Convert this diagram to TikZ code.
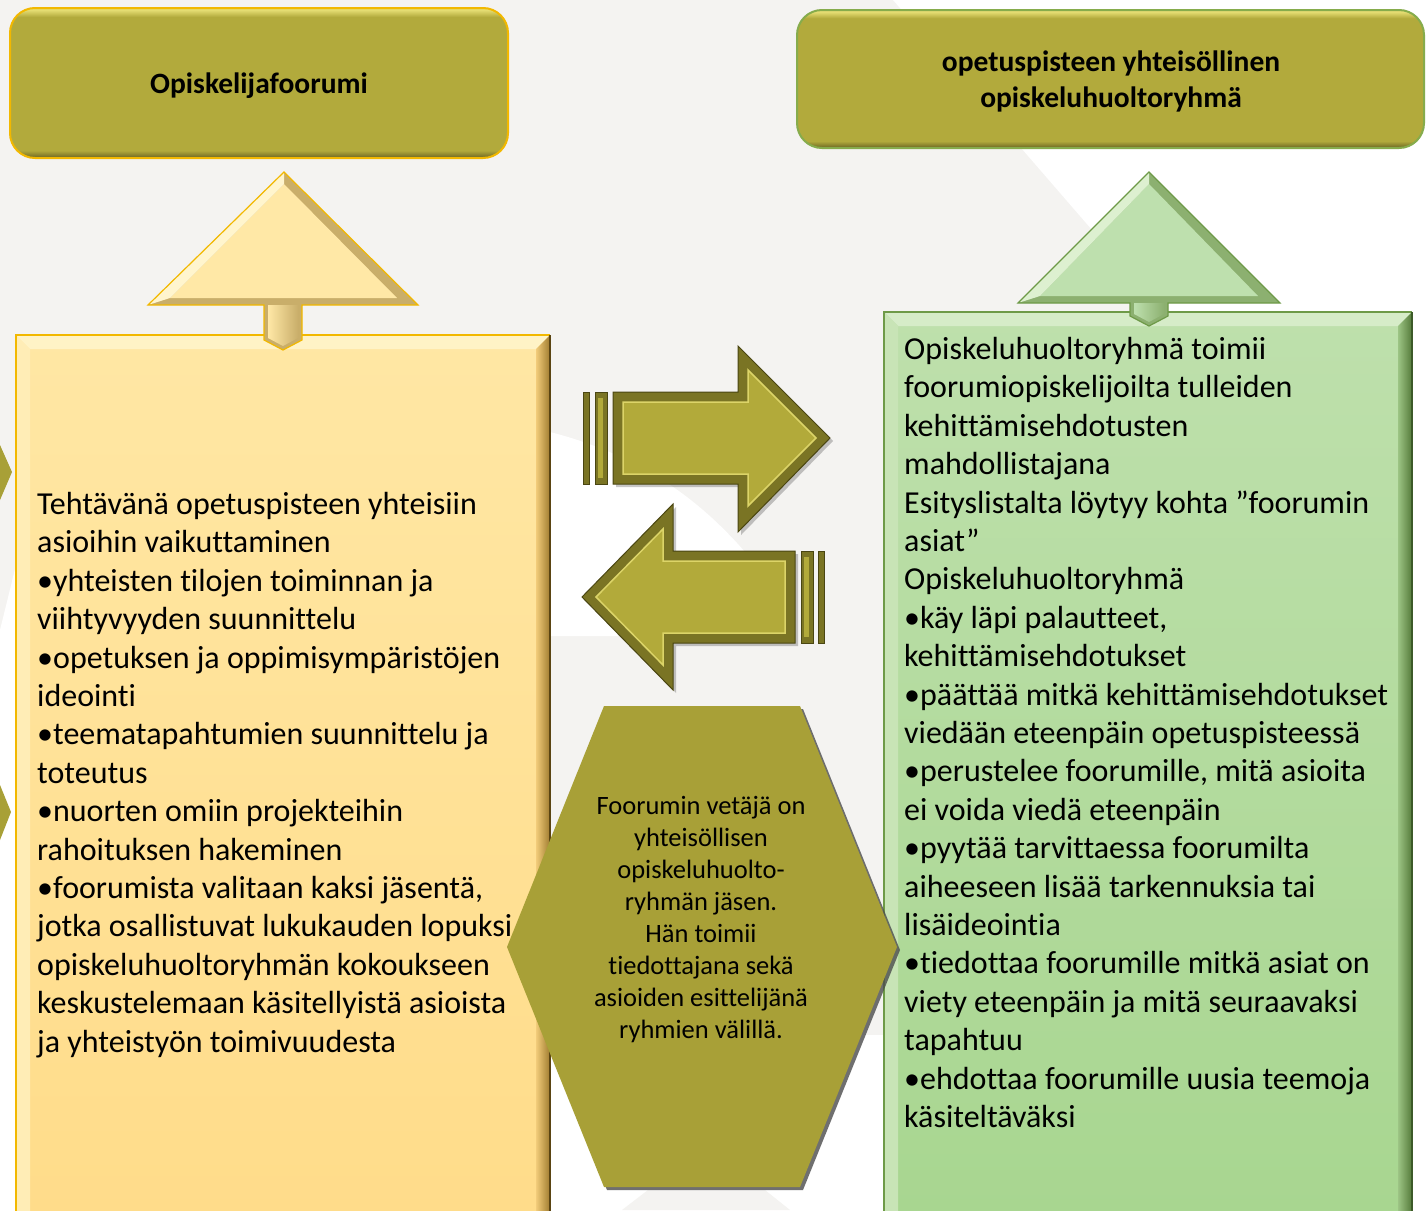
\documentclass[tikz,border=0pt]{standalone}
\usepackage{fontspec}
\setmainfont{Carlito}[Ligatures=NoCommon]
\definecolor{bg}{HTML}{F4F3F1}
\definecolor{oD}{HTML}{6A6422}
\definecolor{oM}{HTML}{B2AA3C}
\definecolor{oL}{HTML}{E4DC72}
\definecolor{hexc}{HTML}{A8A037}
\definecolor{goldB}{HTML}{F2B800}
\definecolor{brownD}{HTML}{5A4412}
\definecolor{yTop}{HTML}{FFE7A4}
\definecolor{yBot}{HTML}{FFDC8A}
\definecolor{yLight}{HTML}{FFF3C6}
\definecolor{yLeft}{HTML}{FFEDB6}
\definecolor{ySideL}{HTML}{F2CC7A}
\definecolor{ySideD}{HTML}{A07C30}
\definecolor{yArD}{HTML}{C9AE6A}
\definecolor{yArM}{HTML}{FFE8A6}
\definecolor{yArL}{HTML}{FFF5CE}
\definecolor{gTop}{HTML}{BEE0AC}
\definecolor{gBot}{HTML}{A8D690}
\definecolor{gLight}{HTML}{D6ECC8}
\definecolor{gLeft}{HTML}{C8E4B6}
\definecolor{gSideL}{HTML}{9CC484}
\definecolor{gSideD}{HTML}{557A3A}
\definecolor{gBorder}{HTML}{6E9A48}
\definecolor{gDark}{HTML}{3C5A28}
\definecolor{gArD}{HTML}{8CB070}
\definecolor{gArM}{HTML}{BEE0AE}
\definecolor{gArL}{HTML}{DDF0D0}
\definecolor{gTitleB}{HTML}{86AC4C}
\definecolor{aDark}{HTML}{7A7424}
\definecolor{aMid}{HTML}{B2AA3A}
\definecolor{aLight}{HTML}{DCD468}
\definecolor{aEdge}{HTML}{4A4612}
\pgfdeclareverticalshading{titleolive}{100bp}{color(0bp)=(oD); color(25bp)=(oD); color(27.5bp)=(oM); color(72bp)=(oM); color(74.3bp)=(oL); color(75bp)=(oL); color(100bp)=(oL)}
\tikzset{
  titletext/.style={inner sep=0pt, align=center, font=\fontsize{29.5}{36}\selectfont\bfseries},
  bodytext/.style={inner sep=0pt, anchor=north west, align=left, font=\fontsize{32}{38.4}\selectfont},
  hextext/.style={inner sep=0pt, align=center, font=\fontsize{26.5}{32}\selectfont},
  arrowouter/.style={fill=aDark, draw=aEdge, line width=1pt},
  arrowinner/.style={fill=aMid, draw=aLight, line width=1.5pt},
  shadowfill/.style={fill=black, opacity=0.22}
}
\begin{document}
\begin{tikzpicture}[x=1pt,y=-1pt,line join=miter]
\useasboundingbox (0,0) rectangle (1426,1210);
% background
\fill[bg] (0,0) rectangle (1426,1210);
\fill[white] (893,0) -- (1426,0) -- (1426,1210) -- (1200,1210) -- (1170,320) -- cycle;
\fill[white] (550,432) .. controls (640,455) and (700,500) .. (745,552) -- (745,636) -- (550,636) -- cycle;
\fill[white] (550,1035) rectangle (884,1210);
\fill[bg] (648,1190) -- (765,1190) -- (790,1210) -- (622,1210) -- cycle;
\fill[white] (0,630) -- (16,565) -- (16,1210) -- (0,1210) -- cycle;
% left edge partial shapes
\fill[hexc] (0,445) -- (12,472) -- (0,500) -- cycle;
\fill[hexc] (0,785) -- (11,812) -- (0,840) -- cycle;

% title boxes
\path[shading=titleolive, rounded corners=25pt] (10,8) rectangle (508,158);
\draw[goldB, line width=2pt, rounded corners=25pt] (10,8) rectangle (508,158);
\node[titletext] (title1) at (259,86) {Opiskelijafoorumi};

\path[shading=titleolive, rounded corners=25pt] (797,10) rectangle (1424,148);
\draw[gTitleB, line width=2pt, rounded corners=25pt] (797,10) rectangle (1424,148);
\node[titletext] (title2) at (1111,81) {opetuspisteen yhteisöllinen\\opiskeluhuoltoryhmä};

% left big box
\shade[top color=yTop, bottom color=yBot] (16,335) rectangle (550,1215);
\fill[yLight] (16,335) -- (550,335) -- (536,349) -- (30,349) -- cycle;
\fill[yLeft] (16,335) -- (30,349) -- (30,1215) -- (16,1215) -- cycle;
\shade[left color=ySideL, right color=ySideD] (536,349) -- (550,335) -- (550,1215) -- (536,1215) -- cycle;
\draw[goldB, line width=1.5pt] (16,1215) -- (16,335) -- (550,335);
\draw[brownD, line width=1.5pt] (550,335) -- (550,1215);

% right big box
\shade[top color=gTop, bottom color=gBot] (884,312) rectangle (1412,1215);
\fill[gLight] (884,312) -- (1412,312) -- (1398,326) -- (898,326) -- cycle;
\fill[gLeft] (884,312) -- (898,326) -- (898,1215) -- (884,1215) -- cycle;
\shade[left color=gSideL, right color=gSideD] (1398,326) -- (1412,312) -- (1412,1215) -- (1398,1215) -- cycle;
\draw[gBorder, line width=1.5pt] (884,1215) -- (884,312) -- (1412,312);
\draw[gDark, line width=1.5pt] (1412,312) -- (1412,1215);

% left up arrow
\fill[yArD] (148,305) -- (284,172) -- (418,305) -- (302,305) -- (302,340) -- (283,350) -- (264,340) -- (264,305) -- cycle;
\fill[yArM] (170,298) -- (284,184) -- (397,298) -- cycle;
\fill[yArL] (148,305) -- (284,172) -- (284,184) -- (170,298) -- cycle;
\shade[left color=yArM, right color=yArD] (268,305) -- (298,305) -- (298,338) -- (283,346) -- (268,338) -- cycle;
\draw[goldB, line width=1.2pt] (148,305) -- (284,172) -- (418,305) -- (302,305) -- (302,340) -- (283,350) -- (264,340) -- (264,305) -- cycle;

% right up arrow
\fill[gArD] (1018,303) -- (1149,172) -- (1280,303) -- (1168,303) -- (1168,316) -- (1149,326) -- (1130,316) -- (1130,303) -- cycle;
\fill[gArM] (1040,296) -- (1149,184) -- (1258,296) -- cycle;
\fill[gArL] (1018,303) -- (1149,172) -- (1149,184) -- (1040,296) -- cycle;
\shade[left color=gArM, right color=gArD] (1134,303) -- (1164,303) -- (1164,314) -- (1149,322) -- (1134,314) -- cycle;
\draw[gBorder, line width=1.2pt] (1018,303) -- (1149,172) -- (1280,303) -- (1168,303) -- (1168,316) -- (1149,326) -- (1130,316) -- (1130,303) -- cycle;

% right-pointing arrow
\fill[shadowfill] (616,395) -- (741,395) -- (741,349) -- (833,441) -- (741,535) -- (741,487) -- (616,487) -- cycle;
\path[arrowouter] (613,392) -- (738,392) -- (738,346) -- (830,438) -- (738,532) -- (738,484) -- (613,484) -- cycle;
\path[arrowinner] (623,402) -- (748,402) -- (748,370) -- (816,438) -- (748,506) -- (748,474) -- (623,474) -- cycle;
\path[arrowouter] (583,392) rectangle (589,484);
\path[arrowouter] (595,392) rectangle (607,484);
\fill[aMid] (598,398) rectangle (603,478);

% left-pointing arrow
\fill[shadowfill] (585,600) -- (676,507) -- (676,554) -- (798,554) -- (798,646) -- (676,646) -- (676,693) -- cycle;
\path[arrowouter] (582,597) -- (673,504) -- (673,551) -- (795,551) -- (795,643) -- (673,643) -- (673,690) -- cycle;
\path[arrowinner] (596,597) -- (663,529) -- (663,561) -- (785,561) -- (785,633) -- (663,633) -- (663,665) -- cycle;
\path[arrowouter] (801,551) rectangle (813,643);
\path[arrowouter] (818,551) rectangle (824,643);
\fill[aMid] (804,557) rectangle (809,637);

% hexagon
\fill[black!70, opacity=0.8] (607,709) -- (803,709) -- (900,950) -- (803,1190) -- (607,1190) -- (510,950) -- cycle;
\fill[hexc] (604,706) -- (800,706) -- (897,947) -- (800,1187) -- (604,1187) -- (507,947) -- cycle;
\node[hextext] (hexlabel) at (701,920) {Foorumin vetäjä on\\yhteisöllisen\\opiskeluhuolto-\\ryhmän jäsen.\\Hän toimii\\tiedottajana sekä\\asioiden esittelijänä\\ryhmien välillä.};

% body texts
\node[bodytext] (lefttext) at (37,492) {Tehtävänä opetuspisteen yhteisiin\\asioihin vaikuttaminen\\•yhteisten tilojen toiminnan ja\\viihtyvyyden suunnittelu\\•opetuksen ja oppimisympäristöjen\\ideointi\\•teematapahtumien suunnittelu ja\\toteutus\\•nuorten omiin projekteihin\\rahoituksen hakeminen\\•foorumista valitaan kaksi jäsentä,\\jotka osallistuvat lukukauden lopuksi\\opiskeluhuoltoryhmän kokoukseen\\keskustelemaan käsitellyistä asioista\\ja yhteistyön toimivuudesta};

\node[bodytext] (righttext) at (904,337) {Opiskeluhuoltoryhmä toimii\\foorumiopiskelijoilta tulleiden\\kehittämisehdotusten\\mahdollistajana\\Esityslistalta löytyy kohta ”foorumin\\asiat”\\Opiskeluhuoltoryhmä\\•käy läpi palautteet,\\kehittämisehdotukset\\•päättää mitkä kehittämisehdotukset\\viedään eteenpäin opetuspisteessä\\•perustelee foorumille, mitä asioita\\ei voida viedä eteenpäin\\•pyytää tarvittaessa foorumilta\\aiheeseen lisää tarkennuksia tai\\lisäideointia\\•tiedottaa foorumille mitkä asiat on\\viety eteenpäin ja mitä seuraavaksi\\tapahtuu\\•ehdottaa foorumille uusia teemoja\\käsiteltäväksi};
\end{tikzpicture}
\end{document}
